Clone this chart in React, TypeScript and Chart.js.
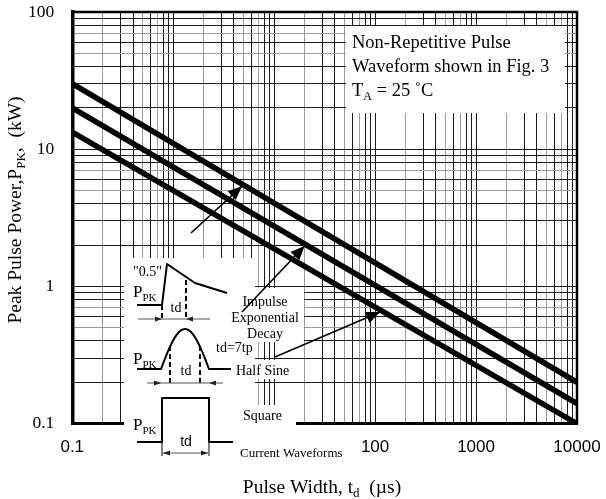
import React, { useEffect, useRef } from "react";
import { Chart, registerables } from "chart.js";

Chart.register(...registerables);

// ---- data (log-log, straight lines) ----
const pulseWidthUs = [0.1, 10000];
const upperCurveKW = [30, 0.2];
const middleCurveKW = [20, 0.14];
const lowerCurveKW = [13.3, 0.1];

const xDecadeExponents = [-1, 0, 1, 2, 3];
const yDecadeExponents = [-1, 0, 1];
const gridMantissas = [1, 2, 3, 4, 5, 6, 7, 8, 9];
const xTickLabels = ["0.1", "100", "1000", "10000"];
const yTickLabels = ["0.1", "1", "10", "100"];
const xGrayMantissas = [2, 5, 7];
const yGrayMantissas = [5, 7];

// arrows: x position (µs) where each arrow touches a curve, and which curve
const arrowTipX = [4.8, 20, 112];
const arrowCurve = [0, 1, 2];

const SERIF = '"Liberation Serif", "Times New Roman", serif';
const SANS = '"Liberation Sans", Arial, sans-serif';

function buildTicks(exps: number[], last: number) {
  const out: number[] = [];
  exps.forEach((e) =>
    gridMantissas.forEach((m) => out.push(Number((m * Math.pow(10, e)).toPrecision(6))))
  );
  out.push(last);
  return out;
}

function mantissa(v: number) {
  const e = Math.floor(Math.log10(v) + 1e-9);
  return Math.round(v / Math.pow(10, e));
}

type Part = [string, boolean];
function rich(ctx: CanvasRenderingContext2D, parts: Part[], x: number, y: number, size: number, align: "left" | "center", family = SERIF) {
  const sub = Math.round(size * 0.65);
  const widths = parts.map(([t, s]) => {
    ctx.font = `${s ? sub : size}px ${family}`;
    return ctx.measureText(t).width;
  });
  const total = widths.reduce((a, b) => a + b, 0);
  let cx = align === "center" ? x - total / 2 : x;
  ctx.textAlign = "left";
  ctx.textBaseline = "alphabetic";
  parts.forEach(([t, s], i) => {
    ctx.font = `${s ? sub : size}px ${family}`;
    ctx.fillText(t, cx, s ? y + size * 0.22 : y);
    cx += widths[i];
  });
}

function arrowHead(ctx: CanvasRenderingContext2D, fx: number, fy: number, tx: number, ty: number, len: number, half: number) {
  const a = Math.atan2(ty - fy, tx - fx);
  ctx.beginPath();
  ctx.moveTo(tx, ty);
  ctx.lineTo(tx - len * Math.cos(a) + half * Math.sin(a), ty - len * Math.sin(a) - half * Math.cos(a));
  ctx.lineTo(tx - len * Math.cos(a) - half * Math.sin(a), ty - len * Math.sin(a) + half * Math.cos(a));
  ctx.closePath();
  ctx.fill();
}

function arrow(ctx: CanvasRenderingContext2D, fx: number, fy: number, tx: number, ty: number) {
  ctx.lineWidth = 1.6;
  ctx.beginPath();
  ctx.moveTo(fx, fy);
  ctx.lineTo(tx, ty);
  ctx.stroke();
  arrowHead(ctx, fx, fy, tx, ty, 14, 6);
}

function dimArrow(ctx: CanvasRenderingContext2D, x1: number, x2: number, y: number, inward: boolean, ext = 0) {
  ctx.save();
  ctx.strokeStyle = "#555";
  ctx.fillStyle = "#222";
  ctx.lineWidth = 1;
  ctx.beginPath();
  ctx.moveTo(x1 - ext, y);
  ctx.lineTo(x2 + ext, y);
  ctx.stroke();
  if (inward) {
    arrowHead(ctx, x1 - 10, y, x1, y, 7, 2.5);
    arrowHead(ctx, x2 + 10, y, x2, y, 7, 2.5);
  } else {
    arrowHead(ctx, x1 + 10, y, x1, y, 7, 2.5);
    arrowHead(ctx, x2 - 10, y, x2, y, 7, 2.5);
  }
  ctx.restore();
}

const curves = [upperCurveKW, middleCurveKW, lowerCurveKW];
function curveAt(ci: number, x: number) {
  const c = curves[ci];
  const lx0 = Math.log10(pulseWidthUs[0]);
  const lx1 = Math.log10(pulseWidthUs[1]);
  const t = (Math.log10(x) - lx0) / (lx1 - lx0);
  return Math.pow(10, Math.log10(c[0]) + t * (Math.log10(c[1]) - Math.log10(c[0])));
}

const overlay = {
  id: "overlay",
  beforeDatasetsDraw(chart: any) {
    const { ctx, chartArea: a } = chart;
    ctx.save();
    ctx.strokeStyle = "#000";
    ctx.lineWidth = 2.5;
    ctx.beginPath();
    ctx.moveTo(a.left, a.top);
    ctx.lineTo(a.right, a.top);
    ctx.lineTo(a.right, a.bottom);
    ctx.stroke();
    ctx.fillStyle = "#fff";
    // note box (top right)
    ctx.fillRect(346, 26, 219, 87);
    // waveform inset
    ctx.fillRect(124, 258, 131, 202);
    // label backgrounds
    ctx.fillRect(226, 288, 78, 54);
    ctx.fillRect(214, 340, 44, 16);
    ctx.fillRect(232, 360, 60, 19);
    ctx.fillRect(238, 405, 58, 20);
    ctx.restore();
  },
  afterDatasetsDraw(chart: any) {
    const { ctx } = chart;
    const xs = chart.scales.x;
    const ys = chart.scales.y;
    ctx.save();
    ctx.fillStyle = "#000";
    ctx.strokeStyle = "#000";

    // note text
    rich(ctx, [["Non-Repetitive Pulse", false]], 352, 48, 18.5, "left");
    rich(ctx, [["Waveform shown in Fig. 3", false]], 352, 72, 18.5, "left");
    rich(ctx, [["T", false], ["A", true], [" = 25 ˚C", false]], 352, 96, 18.5, "left");

    // ---- waveform pictures ----
    ctx.lineWidth = 2;
    ctx.lineJoin = "round";
    // exponential decay
    ctx.beginPath();
    ctx.moveTo(137, 305);
    ctx.lineTo(162, 305);
    ctx.lineTo(167, 264);
    ctx.lineTo(195, 283);
    ctx.lineTo(227, 293);
    ctx.stroke();
    ctx.setLineDash([5, 3]);
    ctx.beginPath();
    ctx.moveTo(162, 305);
    ctx.lineTo(162, 319);
    ctx.moveTo(186, 280);
    ctx.lineTo(186, 319);
    ctx.stroke();
    ctx.setLineDash([]);
    dimArrow(ctx, 162, 186, 319, true, 24);
    rich(ctx, [['"0.5"', false]], 133, 276, 14, "left");
    rich(ctx, [["P", false], ["PK", true]], 133, 297, 17, "left");
    rich(ctx, [["td", false]], 176, 312, 14, "center");

    // half sine
    ctx.lineWidth = 2;
    ctx.beginPath();
    ctx.moveTo(137, 369);
    ctx.lineTo(161, 369);
    for (let i = 0; i <= 40; i++) {
      const t = i / 40;
      ctx.lineTo(161 + 48 * t, 369 - 40 * Math.sin(Math.PI * t));
    }
    ctx.lineTo(231, 369);
    ctx.stroke();
    ctx.setLineDash([5, 3]);
    ctx.beginPath();
    ctx.moveTo(170, 346);
    ctx.lineTo(170, 383);
    ctx.moveTo(200, 346);
    ctx.lineTo(200, 383);
    ctx.stroke();
    ctx.setLineDash([]);
    dimArrow(ctx, 161, 209, 383, true, 14);
    rich(ctx, [["P", false], ["PK", true]], 133, 364, 17, "left");
    rich(ctx, [["td", false]], 186, 375, 14, "center");

    // square
    ctx.lineWidth = 2;
    ctx.beginPath();
    ctx.moveTo(137, 442);
    ctx.lineTo(162, 442);
    ctx.lineTo(162, 398);
    ctx.lineTo(209, 398);
    ctx.lineTo(209, 442);
    ctx.lineTo(233, 442);
    ctx.stroke();
    ctx.lineWidth = 1;
    ctx.beginPath();
    ctx.moveTo(162, 442);
    ctx.lineTo(162, 456);
    ctx.moveTo(209, 442);
    ctx.lineTo(209, 456);
    ctx.stroke();
    dimArrow(ctx, 163, 208, 453, false, 0);
    rich(ctx, [["P", false], ["PK", true]], 133, 430, 17, "left");
    rich(ctx, [["td", false]], 186, 446, 14, "center", SANS);

    // labels
    ctx.fillStyle = "#000";
    rich(ctx, [["Impulse", false]], 265, 306, 14, "center");
    rich(ctx, [["Exponential", false]], 265, 322, 14, "center");
    rich(ctx, [["Decay", false]], 265, 338, 14, "center");
    rich(ctx, [["td=7tp", false]], 216, 352, 14, "left");
    rich(ctx, [["Half Sine", false]], 236, 375, 14, "left");
    rich(ctx, [["Square", false]], 243, 420, 14, "left");
    rich(ctx, [["Current Waveforms", false]], 240, 457, 13, "left");

    // arrows pointing to the curves
    const tails: [number, number][] = [
      [191, 233],
      [242, 312],
      [275, 357],
    ];
    ctx.fillStyle = "#000";
    ctx.strokeStyle = "#000";
    arrowTipX.forEach((xv, i) => {
      const tx = xs.getPixelForValue(xv);
      const ty = ys.getPixelForValue(curveAt(arrowCurve[i], xv)) + 2;
      arrow(ctx, tails[i][0], tails[i][1], tx, ty);
    });
    ctx.restore();
  },
  afterDraw(chart: any) {
    const { ctx } = chart;
    ctx.save();
    ctx.fillStyle = "#000";
    rich(ctx, [["Pulse Width, t", false], ["d", true], ["  (µs)", false]], 322, 493, 19.5, "center");
    ctx.translate(21, 210);
    ctx.rotate(-Math.PI / 2);
    rich(ctx, [["Peak Pulse Power,P", false], ["PK", true], [",  (kW)", false]], 0, 0, 19.5, "center");
    ctx.restore();
  },
};

export default function App() {
  const ref = useRef<HTMLCanvasElement | null>(null);
  useEffect(() => {
    document.body.style.margin = "0";
    if (!ref.current) return;
    const xTicks = buildTicks(xDecadeExponents, 10000);
    const yTicks = buildTicks(yDecadeExponents, 100);
    const chart = new Chart(ref.current, {
      type: "line",
      data: {
        datasets: [
          { label: "upper", data: pulseWidthUs.map((x, i) => ({ x, y: upperCurveKW[i] })) },
          { label: "middle", data: pulseWidthUs.map((x, i) => ({ x, y: middleCurveKW[i] })) },
          { label: "lower", data: pulseWidthUs.map((x, i) => ({ x, y: lowerCurveKW[i] })) },
        ].map((d) => ({
          ...d,
          borderColor: "#000",
          borderWidth: 5.5,
          pointRadius: 0,
          pointHoverRadius: 0,
          tension: 0,
          borderCapStyle: "butt" as const,
        })),
      },
      options: {
        animation: false,
        responsive: true,
        maintainAspectRatio: false,
        layout: { autoPadding: false, padding: { left: 10, right: 29, top: 12, bottom: 27 } },
        plugins: { legend: { display: false }, tooltip: { enabled: false } },
        scales: {
          x: {
            type: "logarithmic",
            min: 0.1,
            max: 10000,
            afterBuildTicks: (axis: any) => {
              axis.ticks = xTicks.map((v) => ({ value: v }));
            },
            afterFit: (s: any) => {
              s.paddingLeft = 0;
              s.paddingRight = 0;
            },
            ticks: {
              autoSkip: false,
              maxRotation: 0,
              padding: 14,
              color: "#000",
              font: { family: SANS, size: 17 },
              callback: (v: any) => (xTickLabels.includes(String(v)) ? String(v) : ""),
            },
            grid: {
              drawTicks: false,
              lineWidth: 1,
              color: (c: any) =>
                c.tick && xGrayMantissas.includes(mantissa(c.tick.value)) ? "#9a9a9a" : "#1a1a1a",
            },
            border: { display: true, color: "#000", width: 3 },
          },
          y: {
            type: "logarithmic",
            min: 0.1,
            max: 100,
            afterBuildTicks: (axis: any) => {
              axis.ticks = yTicks.map((v) => ({ value: v }));
            },
            afterFit: (s: any) => {
              s.paddingTop = 0;
              s.paddingBottom = 0;
            },
            ticks: {
              autoSkip: false,
              padding: 18,
              color: "#000",
              font: { family: SERIF, size: 17.5 },
              callback: (v: any) => (yTickLabels.includes(String(v)) ? String(v) : ""),
            },
            grid: {
              drawTicks: false,
              lineWidth: 1,
              color: (c: any) =>
                c.tick && yGrayMantissas.includes(mantissa(c.tick.value)) ? "#9a9a9a" : "#1a1a1a",
            },
            border: { display: true, color: "#000", width: 3.5 },
          },
        },
      },
      plugins: [overlay],
    });
    return () => chart.destroy();
  }, []);
  return (
    <div style={{ width: 606, height: 499, position: "relative" }}>
      <canvas ref={ref} />
    </div>
  );
}
